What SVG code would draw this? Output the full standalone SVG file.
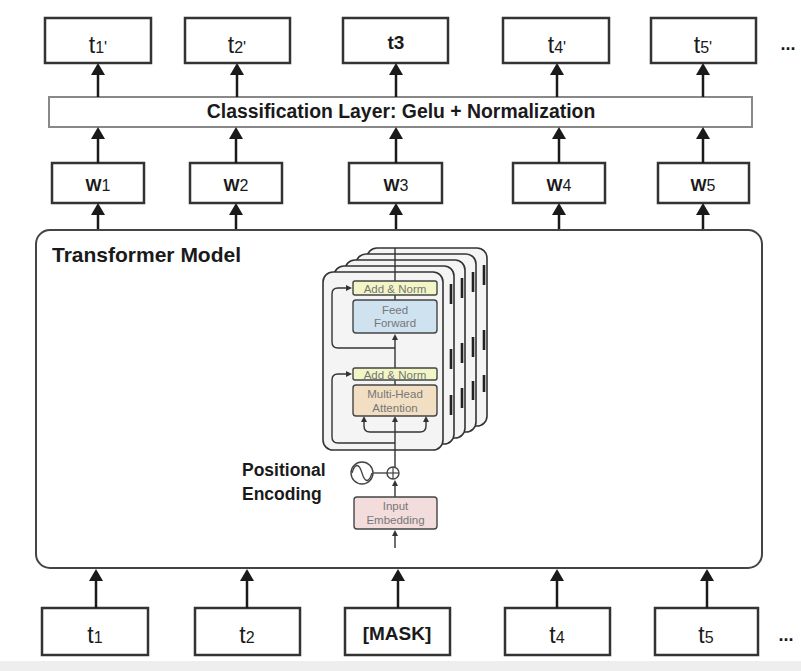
<svg xmlns="http://www.w3.org/2000/svg" width="801" height="671" viewBox="0 0 801 671">
<defs>
<style>
.box{fill:#fff;stroke:#333;stroke-width:2.5}
.cls{fill:#fff;stroke:#888;stroke-width:2}
.tr{fill:#fff;stroke:#444;stroke-width:2}
.conn{stroke:#1a1a1a;stroke-width:2.5;fill:none}
.lbl{font-family:"Liberation Sans",Arial,sans-serif;fill:#1a1a1a;text-anchor:middle}
.big{font-size:23px}
.sub{font-size:16px}
.w{font-size:17px;font-weight:bold}
.bold{font-weight:bold}
.panel{fill:#f4f4f4;stroke:#333;stroke-width:1.6}
.inner{stroke:#333;stroke-width:1.4;fill:none}
.sm{font-family:"Liberation Sans",Arial,sans-serif;font-size:11.5px;fill:#777;text-anchor:middle}
.an{fill:#f2f5c6;stroke:#444;stroke-width:1.4}
.ff{fill:#cfe2ef;stroke:#444;stroke-width:1.4}
.mha{fill:#f2dfc3;stroke:#444;stroke-width:1.4}
.emb{fill:#f3dcdc;stroke:#444;stroke-width:1.4}
.dash{stroke:#222;stroke-width:2.6}
</style>
<marker id="ah" viewBox="0 0 12 14" refX="4" refY="7" markerWidth="12" markerHeight="14" markerUnits="userSpaceOnUse" orient="auto">
<path d="M0,0 L12,7 L0,14 z" fill="#1a1a1a"/>
</marker>
<marker id="sa" viewBox="0 0 6 6" refX="3" refY="3" markerWidth="6" markerHeight="6" markerUnits="userSpaceOnUse" orient="auto">
<path d="M0,0 L6,3 L0,6 z" fill="#333"/>
</marker>
</defs>
<rect x="0" y="0" width="801" height="671" fill="#fff"/>
<rect x="0" y="661" width="801" height="10" fill="#eeeeee"/>

<!-- Transformer model container -->
<g id="transformer">
<rect class="tr" x="36" y="230" width="726" height="338" rx="14"/>
<text class="lbl bold" x="52" y="262" font-size="21" style="text-anchor:start">Transformer Model</text>
</g>

<!-- Stacked encoder layers -->
<g id="encoder-stack">
<rect class="panel" x="367" y="248" width="120" height="178" rx="10"/>
<line class="dash" x1="484" y1="265" x2="484" y2="285"/>
<line class="dash" x1="484" y1="330" x2="484" y2="350"/>
<line class="dash" x1="484" y1="375" x2="484" y2="392"/>
<rect class="panel" x="356" y="254" width="120" height="178" rx="10"/>
<line class="dash" x1="473" y1="272" x2="473" y2="292"/>
<line class="dash" x1="473" y1="337" x2="473" y2="357"/>
<line class="dash" x1="473" y1="381" x2="473" y2="400"/>
<rect class="panel" x="345" y="260" width="120" height="178" rx="10"/>
<line class="dash" x1="462" y1="278" x2="462" y2="298"/>
<line class="dash" x1="462" y1="343" x2="462" y2="363"/>
<line class="dash" x1="462" y1="388" x2="462" y2="408"/>
<rect class="panel" x="334" y="266" width="120" height="178" rx="10"/>
<line class="dash" x1="451" y1="284" x2="451" y2="304"/>
<line class="dash" x1="451" y1="349" x2="451" y2="369"/>
<line class="dash" x1="451" y1="395" x2="451" y2="415"/>
<rect class="panel" x="323" y="272" width="120" height="178" rx="10"/>
<!-- inner flow lines -->
<line class="inner" x1="395" y1="248" x2="395" y2="281"/>
<line class="inner" x1="395" y1="295" x2="395" y2="300"/>
<line class="inner" x1="395" y1="368" x2="395" y2="337" marker-end="url(#sa)"/>
<line class="inner" x1="395" y1="380" x2="395" y2="385"/>
<line class="inner" x1="395" y1="467" x2="395" y2="419" marker-end="url(#sa)"/>
<path class="inner" d="M395,348 H338 Q332,348 332,342 V294 Q332,288 338,288 H349" marker-end="url(#sa)"/>
<path class="inner" d="M395,443 H338 Q332,443 332,437 V380 Q332,374 338,374 H349" marker-end="url(#sa)"/>
<path class="inner" d="M395,432 H370 Q364,432 364,426 V419" marker-end="url(#sa)"/>
<path class="inner" d="M395,432 H420 Q426,432 426,426 V419" marker-end="url(#sa)"/>
<rect class="an" x="353" y="281" width="84" height="14" rx="2"/>
<text class="sm" x="395" y="292.5">Add &amp; Norm</text>
<rect class="ff" x="353" y="300" width="84" height="33" rx="3"/>
<text class="sm" x="395" y="314">Feed</text>
<text class="sm" x="395" y="327">Forward</text>
<rect class="an" x="353" y="368" width="84" height="12" rx="2"/>
<text class="sm" x="395" y="378.5">Add &amp; Norm</text>
<rect class="mha" x="353" y="385" width="84" height="31" rx="3"/>
<text class="sm" x="395" y="398">Multi-Head</text>
<text class="sm" x="395" y="412">Attention</text>
</g>

<!-- Positional encoding and input embedding -->
<g id="positional-encoding">
<text class="lbl bold" x="242" y="476" font-size="17.5" style="text-anchor:start">Positional</text>
<text class="lbl bold" x="242" y="500" font-size="17.5" style="text-anchor:start">Encoding</text>
<circle cx="362" cy="473" r="11" fill="#fff" stroke="#444" stroke-width="1.4"/>
<path d="M352,473 C355,463 359,463 362,473 S369,483 372,473" fill="none" stroke="#444" stroke-width="1.3"/>
<line x1="373" y1="473" x2="387" y2="473" stroke="#444" stroke-width="1.4"/>
<circle cx="393" cy="473" r="6" fill="#fff" stroke="#444" stroke-width="1.4"/>
<line x1="387" y1="473" x2="399" y2="473" stroke="#444" stroke-width="1.2"/>
<line x1="393" y1="467" x2="393" y2="479" stroke="#444" stroke-width="1.2"/>
</g>
<g id="input-embedding">
<line class="inner" x1="395" y1="497" x2="395" y2="483" marker-end="url(#sa)"/>
<line class="inner" x1="395" y1="548" x2="395" y2="533" marker-end="url(#sa)"/>
<rect class="emb" x="354" y="497" width="83" height="32" rx="3"/>
<text class="sm" x="395.5" y="510" font-size="12">Input</text>
<text class="sm" x="395.5" y="524" font-size="12">Embedding</text>
</g>

<!-- Classification layer -->
<g id="classification">
<rect class="cls" x="49" y="97" width="703" height="30"/>
<text class="lbl bold" x="401" y="118" font-size="19.4">Classification Layer: Gelu + Normalization</text>
</g>

<!-- Output tokens -->
<g id="out1"><rect class="box" x="45" y="18" width="106" height="45"/><text class="lbl" x="98" y="53"><tspan class="big">t</tspan><tspan class="sub">1'</tspan></text></g>
<g id="out2"><rect class="box" x="185" y="18" width="105" height="45"/><text class="lbl" x="237" y="53"><tspan class="big">t</tspan><tspan class="sub">2'</tspan></text></g>
<g id="out3"><rect class="box" x="343" y="18" width="105" height="45"/><text class="lbl bold" x="396" y="49" font-size="19">t3</text></g>
<g id="out4"><rect class="box" x="503" y="18" width="106" height="45"/><text class="lbl" x="557" y="53"><tspan class="big">t</tspan><tspan class="sub">4'</tspan></text></g>
<g id="out5"><rect class="box" x="651" y="18" width="105" height="45"/><text class="lbl" x="703" y="53"><tspan class="big">t</tspan><tspan class="sub">5'</tspan></text></g>
<text class="lbl bold" x="788" y="50" font-size="18">...</text>

<!-- Word vectors -->
<g id="w1"><rect class="box" x="52" y="163" width="92" height="40"/><text class="lbl" x="98" y="191"><tspan class="w">W</tspan><tspan class="sub">1</tspan></text></g>
<g id="w2"><rect class="box" x="190" y="163" width="92" height="40"/><text class="lbl" x="236" y="191"><tspan class="w">W</tspan><tspan class="sub">2</tspan></text></g>
<g id="w3"><rect class="box" x="349" y="163" width="93" height="40"/><text class="lbl" x="396" y="191"><tspan class="w">W</tspan><tspan class="sub">3</tspan></text></g>
<g id="w4"><rect class="box" x="513" y="163" width="92" height="40"/><text class="lbl" x="559" y="191"><tspan class="w">W</tspan><tspan class="sub">4</tspan></text></g>
<g id="w5"><rect class="box" x="658" y="163" width="91" height="40"/><text class="lbl" x="703" y="191"><tspan class="w">W</tspan><tspan class="sub">5</tspan></text></g>

<!-- Input tokens -->
<g id="in1"><rect class="box" x="42" y="608" width="106" height="47"/><text class="lbl" x="95" y="643"><tspan class="big">t</tspan><tspan class="sub">1</tspan></text></g>
<g id="in2"><rect class="box" x="195" y="608" width="105" height="47"/><text class="lbl" x="247" y="643"><tspan class="big">t</tspan><tspan class="sub">2</tspan></text></g>
<g id="in3"><rect class="box" x="345" y="608" width="105" height="47"/><text class="lbl bold" x="397" y="640" font-size="19">[MASK]</text></g>
<g id="in4"><rect class="box" x="505" y="608" width="105" height="47"/><text class="lbl" x="557" y="643"><tspan class="big">t</tspan><tspan class="sub">4</tspan></text></g>
<g id="in5"><rect class="box" x="655" y="608" width="103" height="47"/><text class="lbl" x="706" y="643"><tspan class="big">t</tspan><tspan class="sub">5</tspan></text></g>
<text class="lbl bold" x="786" y="641" font-size="18">...</text>

<!-- Connectors -->
<g id="connectors">
<line class="conn" x1="98" y1="97" x2="98" y2="71" marker-end="url(#ah)"/>
<line class="conn" x1="237" y1="97" x2="237" y2="71" marker-end="url(#ah)"/>
<line class="conn" x1="396" y1="97" x2="396" y2="71" marker-end="url(#ah)"/>
<line class="conn" x1="557" y1="97" x2="557" y2="71" marker-end="url(#ah)"/>
<line class="conn" x1="703" y1="97" x2="703" y2="71" marker-end="url(#ah)"/>

<line class="conn" x1="98" y1="163" x2="98" y2="135" marker-end="url(#ah)"/>
<line class="conn" x1="236" y1="163" x2="236" y2="135" marker-end="url(#ah)"/>
<line class="conn" x1="396" y1="163" x2="396" y2="135" marker-end="url(#ah)"/>
<line class="conn" x1="559" y1="163" x2="559" y2="135" marker-end="url(#ah)"/>
<line class="conn" x1="703" y1="163" x2="703" y2="135" marker-end="url(#ah)"/>

<line class="conn" x1="98" y1="229" x2="98" y2="211" marker-end="url(#ah)"/>
<line class="conn" x1="236" y1="229" x2="236" y2="211" marker-end="url(#ah)"/>
<line class="conn" x1="396" y1="229" x2="396" y2="211" marker-end="url(#ah)"/>
<line class="conn" x1="559" y1="229" x2="559" y2="211" marker-end="url(#ah)"/>
<line class="conn" x1="703" y1="229" x2="703" y2="211" marker-end="url(#ah)"/>

<line class="conn" x1="96" y1="608" x2="96" y2="577" marker-end="url(#ah)"/>
<line class="conn" x1="247" y1="608" x2="247" y2="577" marker-end="url(#ah)"/>
<line class="conn" x1="398" y1="608" x2="398" y2="577" marker-end="url(#ah)"/>
<line class="conn" x1="557" y1="608" x2="557" y2="577" marker-end="url(#ah)"/>
<line class="conn" x1="707" y1="608" x2="707" y2="577" marker-end="url(#ah)"/>
</g>
</svg>
